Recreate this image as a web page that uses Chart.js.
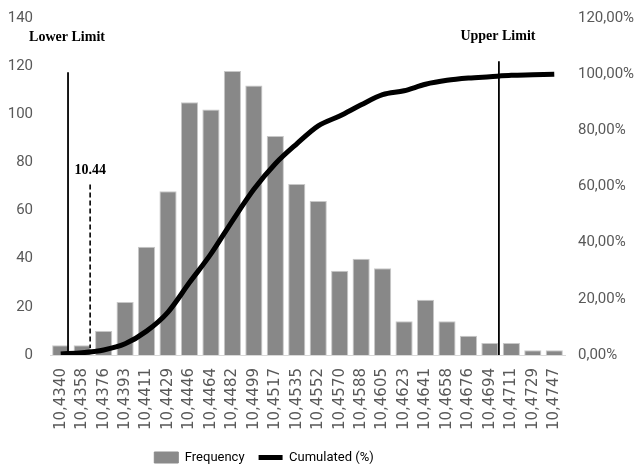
<!DOCTYPE html>
<html lang="en">
<head>
  <meta charset="UTF-8" />
  <title>Frequency histogram</title>
  <script src="https://cdn.jsdelivr.net/npm/chart.js"></script>
  <style>
    html, body { margin: 0; padding: 0; background: #fff; }
    #wrap { width: 640px; height: 469px; }
  </style>
</head>
<body>
  <div id="wrap"><canvas id="histChart"></canvas></div>

  <script>
    // bin centres (x axis)
    const bins = ['10,4340', '10,4358', '10,4376', '10,4393', '10,4411', '10,4429', '10,4446', '10,4464',
                  '10,4482', '10,4499', '10,4517', '10,4535', '10,4552', '10,4570', '10,4588', '10,4605',
                  '10,4623', '10,4641', '10,4658', '10,4676', '10,4694', '10,4711', '10,4729', '10,4747'];
    // counts per bin
    const frequency = [4, 4, 10, 22, 45, 68, 105, 102, 118, 112, 91, 71, 64, 35, 40, 36, 14, 23, 14, 8, 5, 5, 2, 2];
    // cumulated share, in %
    const cumulated = [0.4, 0.8, 1.8, 4.0, 8.5, 15.3, 25.8, 36.0, 47.8, 59.0, 68.1, 75.2, 81.6, 85.1, 89.1,
                       92.7, 94.1, 96.4, 97.8, 98.6, 99.1, 99.6, 99.8, 100.0];

    // limit markers: label, category index, top / bottom (count units), label height, dashed or not
    const limitNames = ['Lower Limit', '10.44', 'Upper Limit'];
    const limitAt    = [0.34, 1.37, 20.42];
    const limitTop   = [117.5, 70.8, 122];
    const limitBase  = [0, 2.9, 0];
    const labelAt    = [131.8, 76.5, 132.2];
    const limitDash  = [false, true, false];

    const sansNarrow = '"Liberation Sans Narrow", "Roboto", "Liberation Sans", sans-serif';
    const tickColor = '#595959';
    const legendShift = -56;

    const limitsPlugin = {
      id: 'limits',
      beforeUpdate(chart) {
        // keep the legend band short so it sits low like the original
        const lg = chart.legend;
        if (lg && !lg._fitPatched) {
          const fit = lg.fit;
          lg.fit = function () { fit.call(this); this.height = 30; };
          lg._fitPatched = true;
        }
      },
      afterLayout(chart) {
        // the original legend is not centred on the page
        const lg = chart.legend;
        if (lg) { lg.left += legendShift; lg.right += legendShift; }
      },
      afterDatasetsDraw(chart) {
        const { ctx } = chart;
        const x = chart.scales.x, y = chart.scales.y;
        const p0 = x.getPixelForValue(0), p1 = x.getPixelForValue(1);
        ctx.save();
        limitNames.forEach((name, i) => {
          const px = p0 + limitAt[i] * (p1 - p0);
          ctx.beginPath();
          ctx.strokeStyle = '#000';
          ctx.lineWidth = limitDash[i] ? 1.6 : 1.8;
          ctx.setLineDash(limitDash[i] ? [5, 3] : []);
          ctx.moveTo(px, y.getPixelForValue(limitTop[i]));
          ctx.lineTo(px, y.getPixelForValue(limitBase[i]));
          ctx.stroke();
          ctx.setLineDash([]);
          ctx.fillStyle = '#000';
          ctx.font = 'bold 14px "Liberation Serif", serif';
          ctx.textAlign = 'center';
          ctx.textBaseline = 'middle';
          const lx = i === 1 ? px : px - 1;
          ctx.fillText(name, lx, y.getPixelForValue(labelAt[i]));
        });
        ctx.restore();
      }
    };

    new Chart(document.getElementById('histChart'), {
      data: {
        labels: bins,
        datasets: [
          {
            type: 'line',
            label: 'Cumulated (%)',
            data: cumulated,
            yAxisID: 'y1',
            borderColor: '#000',
            backgroundColor: '#000',
            borderWidth: 5,
            pointRadius: 0,
            cubicInterpolationMode: 'monotone',
            order: 1
          },
          {
            type: 'bar',
            label: 'Frequency',
            data: frequency,
            yAxisID: 'y',
            backgroundColor: '#888888',
            borderColor: '#c8c8c8',
            borderWidth: 1,
            barPercentage: 0.8,
            categoryPercentage: 1.0,
            order: 2
          }
        ]
      },
      options: {
        responsive: true,
        maintainAspectRatio: false,
        animation: false,
        layout: { padding: { top: 0, left: 0, right: 0, bottom: 2 } },
        plugins: {
          tooltip: { enabled: false },
          legend: {
            position: 'bottom',
            labels: {
              usePointStyle: true,
              pointStyleWidth: 24,
              boxHeight: 11,
              padding: 14,
              color: '#404040',
              font: { family: sansNarrow, size: 13 },
              generateLabels() {
                return [
                  { text: 'Frequency', pointStyle: 'rect', fillStyle: '#8a8a8a', strokeStyle: '#8a8a8a', lineWidth: 1, datasetIndex: 1 },
                  { text: 'Cumulated (%)', pointStyle: 'line', fillStyle: '#000', strokeStyle: '#000', lineWidth: 5, datasetIndex: 0 }
                ];
              }
            }
          }
        },
        scales: {
          x: {
            grid: { display: false },
            border: { display: true, color: '#d9d9d9' },
            ticks: {
              color: tickColor,
              font: { family: '"DejaVu Sans", sans-serif', size: 15 },
              minRotation: 90,
              maxRotation: 90,
              autoSkip: false,
              padding: 5
            },
            afterFit(scale) { scale.height = 82; }
          },
          y: {
            position: 'left',
            min: 0,
            max: 140,
            grid: { display: false },
            border: { display: false },
            ticks: {
              stepSize: 20,
              color: tickColor,
              padding: 9,
              font: { family: sansNarrow, size: 15 }
            },
            afterFit(scale) { scale.width = 50; }
          },
          y1: {
            position: 'right',
            min: 0,
            max: 120,
            grid: { display: false },
            border: { display: false },
            ticks: {
              stepSize: 20,
              color: tickColor,
              padding: 5,
              font: { family: sansNarrow, size: 15 },
              callback: v => v.toFixed(2).replace('.', ',') + '%'
            },
            afterFit(scale) { scale.width = 75; }
          }
        }
      },
      plugins: [limitsPlugin]
    });
  </script>
</body>
</html>
